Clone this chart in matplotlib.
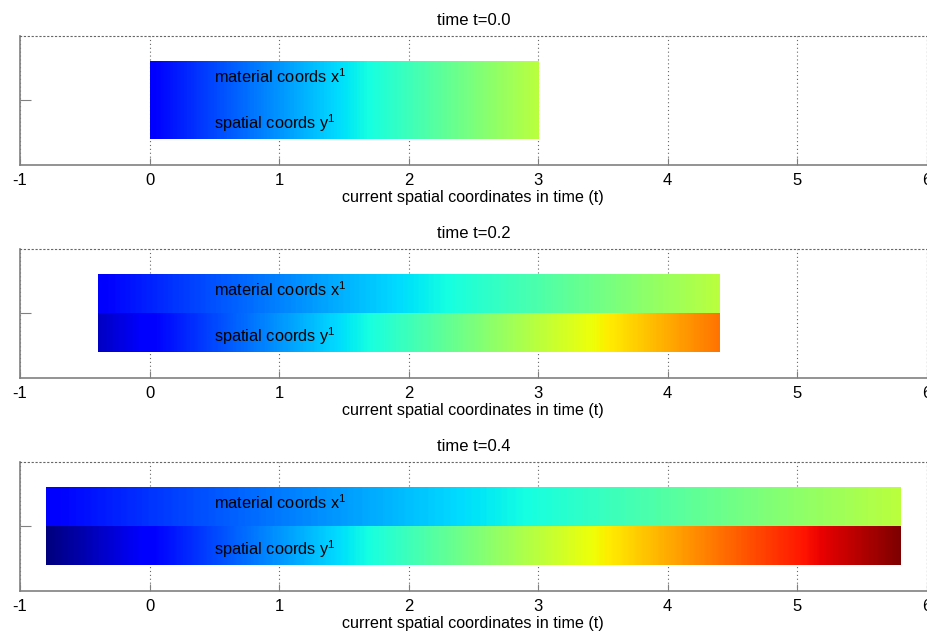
import numpy as np
import matplotlib
matplotlib.use('Agg')
import matplotlib.pyplot as plt

plt.rcParams['font.family'] = ['Liberation Sans', 'DejaVu Sans']
plt.rcParams['mathtext.fontset'] = 'custom'
plt.rcParams['mathtext.rm'] = 'Liberation Sans'
plt.rcParams['mathtext.it'] = 'Liberation Sans'

# time steps and deformed bar ends (spatial coordinates)
times = [0.0, 0.2, 0.4]
left_ends = [0.0, -0.4, -0.8]
right_ends = [3.0, 4.4, 5.8]
# material coordinate range of the body
material_range = [0.0, 3.0]
# colour limits used for both bars
clim = [-0.8, 5.8]
xticks = [-1, 0, 1, 2, 3, 4, 5, 6]

fig = plt.figure(figsize=(9.28, 6.32), dpi=100)
bottoms = [0.739, 0.402, 0.065]
grey = '#808080'
dots = (0, (1, 2.5))

for i, t in enumerate(times):
    ax = fig.add_axes([0.0216, bottoms[i], 0.977, 0.204])
    nx = 400
    mat = np.linspace(material_range[0], material_range[1], nx)[None, :]
    spa = np.linspace(left_ends[i], right_ends[i], nx)[None, :]
    ext = [left_ends[i], right_ends[i]]
    ax.imshow(mat, extent=[ext[0], ext[1], 0.5, 0.8], aspect='auto', cmap='jet',
              vmin=clim[0], vmax=clim[1], interpolation='bilinear', zorder=2)
    ax.imshow(spa, extent=[ext[0], ext[1], 0.2, 0.5], aspect='auto', cmap='jet',
              vmin=clim[0], vmax=clim[1], interpolation='bilinear', zorder=2)
    ax.text(0.5, 0.685, r'material coords x$^{1}$', fontsize=11.8, va='center', zorder=3)
    ax.text(0.5, 0.325, r'spatial coords y$^{1}$', fontsize=11.8, va='center', zorder=3)

    ax.set_xlim(-1, 6)
    ax.set_ylim(0, 1)
    ax.set_xticks(xticks)
    ax.set_xticklabels([str(v) for v in xticks], fontsize=12)
    ax.set_yticks([0.5])
    ax.set_yticklabels([])
    ax.set_axisbelow(True)
    ax.grid(True, axis='x', linestyle=dots, color='#666666', linewidth=0.8)
    ax.tick_params(axis='x', direction='in', length=5, color=grey, pad=6)
    ax.tick_params(axis='y', direction='in', length=8, color=grey)
    for s in ['left', 'bottom']:
        ax.spines[s].set_color(grey)
        ax.spines[s].set_linewidth(1.2)
    for s in ['top', 'right']:
        ax.spines[s].set_color('#666666')
        ax.spines[s].set_linestyle(dots)
        ax.spines[s].set_linewidth(0.8)
    ax.set_title('time t={:.1f}'.format(t), fontsize=12, pad=8)
    ax.set_xlabel('current spatial coordinates in time (t)', fontsize=11.6, labelpad=1)

fig.savefig('out.png', dpi=100)
